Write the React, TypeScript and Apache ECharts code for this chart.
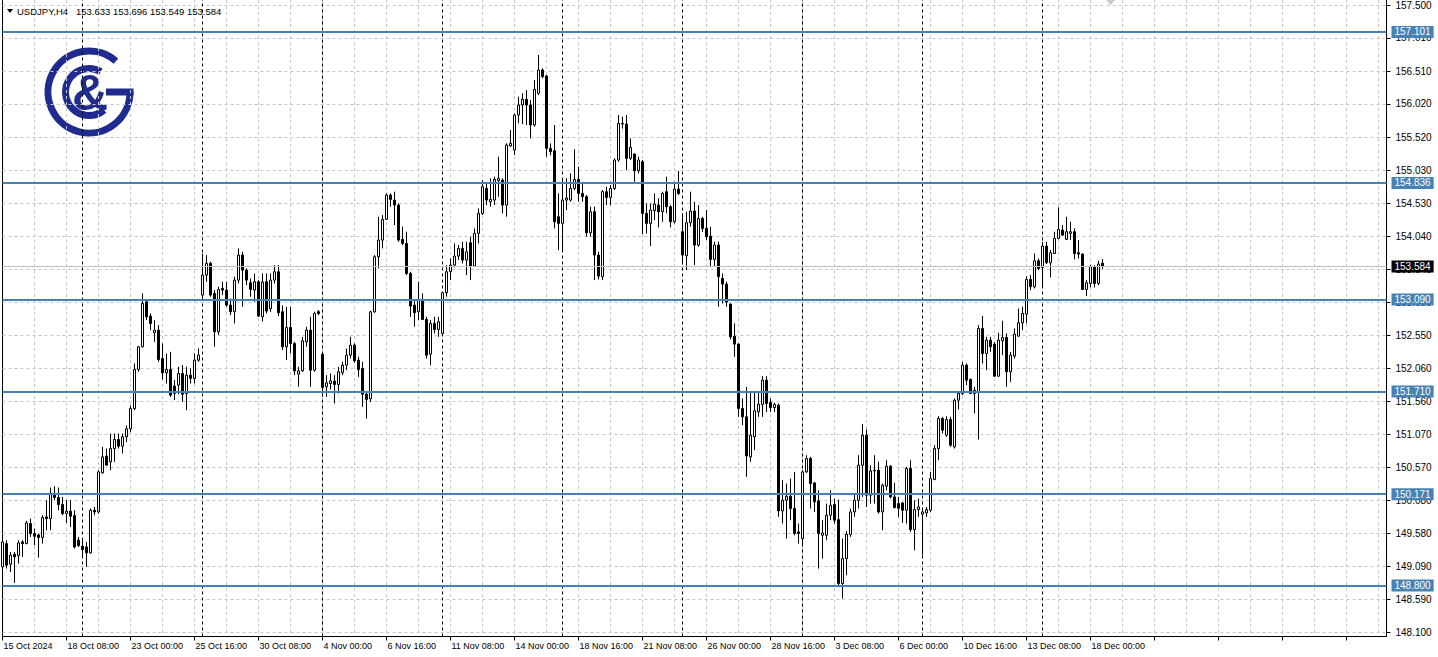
import { useEffect, useRef } from "react";
import * as echarts from "echarts";

const SYMBOL = "USDJPY,H4";
const FIRST_BAR_UTC = Date.UTC(2024, 9, 15, 16, 0);
const FUTURE_SLOTS = 71;

const openP = [
149.08,149.43,149.12,149.27,149.25,149.455,149.43,149.73,149.58,149.56,
149.52,149.83,149.805,150.155,150.12,150.015,149.88,149.915,149.85,149.48,
149.39,149.38,149.29,149.93,149.905,150.49,150.74,150.655,150.855,150.99,
150.89,151.03,151.15,151.455,152.04,152.38,153.055,152.84,152.59,152.63,
152.205,151.99,152.04,151.79,151.805,151.98,151.68,151.955,151.905,152.18,
153.155,153.455,153.63,153.18,152.605,153.255,153.23,153.005,152.905,153.38,
153.755,153.53,153.34,153.23,153.355,152.83,153.355,152.95,153.38,153.505,
152.905,152.38,152.67,152.43,151.97,152.02,152.455,152.63,152.03,152.905,
152.27,151.78,151.83,151.865,151.815,151.99,152.105,152.255,152.405,152.18,
152.055,151.67,151.6,152.905,153.73,153.98,154.29,154.655,154.58,154.505,
153.99,153.93,153.48,153.005,152.905,153.08,152.79,152.27,152.73,152.64,
152.58,153.19,153.505,153.605,153.74,153.855,153.68,153.94,153.59,154.08,
154.38,154.755,154.555,154.58,154.87,154.88,154.505,155.39,155.33,155.855,
156.005,156.09,156.005,155.705,156.18,156.53,156.44,155.355,155.32,154.33,
154.23,154.58,154.58,154.755,154.89,154.68,154.63,154.09,154.405,153.755,
153.43,154.705,154.62,154.755,155.18,155.73,155.72,155.205,155.27,155.02,
155.155,154.38,154.23,154.42,154.505,154.405,154.705,154.48,154.255,154.745,
154.105,153.745,154.24,154.415,153.905,154.305,154.155,154.04,153.69,153.905,
153.405,153.32,153.02,152.54,152.42,151.455,151.33,150.73,151.03,151.405,
151.515,151.88,151.545,151.47,151.505,149.92,150.08,150.14,149.955,149.605,
149.505,150.505,150.705,150.34,150.07,149.555,149.555,149.855,150.015,149.79,
148.83,149.205,149.565,149.905,150.08,150.605,151.055,150.155,150.52,150.53,
149.905,150.29,150.59,150.13,150.03,150.04,149.93,150.555,149.64,149.94,
149.87,149.89,149.93,150.39,150.855,151.305,151.055,151.29,150.88,151.58,
151.68,152.105,151.89,151.68,151.705,152.655,152.28,152.48,152.42,151.94,
152.47,152.52,152.005,152.24,152.54,152.74,152.87,153.39,153.28,153.67,
153.57,153.89,153.64,153.78,154.005,154.13,153.99,154.08,154.105,153.79,
153.77,153.24,153.33,153.58,153.33,153.633
];
const highP = [
149.47,149.48,149.305,149.305,149.48,149.48,149.77,149.805,149.655,149.58,
149.855,150.08,150.27,150.29,150.27,150.13,150.08,150.08,149.93,149.53,
149.48,149.455,149.955,149.98,150.53,150.88,150.855,151.08,151.08,151.08,
151.08,151.2,151.5,152.13,152.39,153.18,153.08,152.88,152.78,152.705,
152.43,152.28,152.305,151.88,152.08,152.105,152.08,152.055,152.28,152.355,
153.78,153.755,153.655,153.23,153.28,153.355,153.355,153.105,153.43,153.855,
153.805,153.555,153.405,153.48,153.38,153.48,153.48,153.48,153.605,153.605,
153.0,152.98,152.98,152.455,152.08,152.53,152.68,152.83,152.905,152.93,
152.3,151.955,151.98,151.955,152.08,152.155,152.355,152.53,152.43,152.23,
152.155,151.705,152.92,153.755,154.33,154.355,154.68,154.68,154.705,154.53,
154.18,154.105,153.505,153.08,153.355,153.18,152.83,152.78,152.83,152.83,
153.2,153.605,153.705,153.93,153.905,153.955,153.955,154.03,154.155,154.455,
154.88,154.83,154.905,154.93,155.23,154.905,155.43,155.63,155.88,156.13,
156.18,156.23,156.08,156.38,156.755,156.555,156.455,155.43,155.705,154.68,
154.905,154.905,154.98,155.34,155.08,154.83,154.655,154.48,154.48,153.805,
154.73,154.78,154.805,155.205,155.855,155.83,155.855,155.505,155.28,155.23,
155.18,154.53,154.53,154.68,154.605,154.705,154.93,154.505,154.855,155.015,
154.38,154.405,154.705,154.555,154.505,154.33,154.43,154.18,153.955,153.955,
153.48,153.355,153.03,152.73,152.43,151.605,151.78,151.705,151.705,151.705,
151.94,151.94,151.605,151.54,151.53,150.38,150.33,150.405,150.505,149.73,
150.53,150.755,150.73,150.355,150.23,149.78,150.03,150.23,150.105,150.09,
149.505,149.62,149.955,150.17,150.755,151.22,151.14,150.605,150.755,150.655,
150.33,150.68,150.605,150.34,150.13,150.055,150.58,150.68,150.08,150.105,
149.955,149.98,150.505,150.905,151.34,151.33,151.34,151.33,151.605,151.705,
152.155,152.13,151.905,151.78,152.705,152.84,152.53,152.53,152.455,152.59,
152.77,152.58,152.305,152.655,152.955,152.98,153.44,153.455,153.78,153.705,
153.955,153.955,153.83,154.105,154.47,154.205,154.33,154.255,154.155,153.98,
153.78,153.38,153.605,153.605,153.67,153.696
];
const lowP = [
148.93,149.055,149.005,148.84,149.13,149.23,149.42,149.53,149.405,149.22,
149.43,149.63,149.63,150.08,149.93,149.855,149.74,149.68,149.355,149.38,
149.23,149.08,149.28,149.855,149.88,150.48,150.605,150.53,150.655,150.855,
150.78,150.95,151.1,151.43,152.005,152.37,152.78,152.63,152.455,152.155,
151.89,151.83,151.63,151.58,151.67,151.555,151.43,151.83,151.83,152.155,
153.105,153.355,153.13,152.38,152.555,153.155,152.98,152.855,152.73,153.33,
152.98,153.305,153.13,153.055,152.83,152.76,152.88,152.9,153.33,152.84,
152.33,152.18,152.28,151.955,151.78,152.005,152.38,151.78,152.005,152.855,
151.655,151.63,151.74,151.53,151.68,151.955,152.03,152.205,152.14,151.93,
151.48,151.305,151.55,152.89,153.555,153.855,154.28,154.48,154.205,153.955,
153.905,153.455,152.83,152.68,152.78,152.78,152.205,152.105,152.58,152.53,
152.55,153.13,153.38,153.57,153.68,153.63,153.455,153.38,153.58,153.93,
154.355,154.505,154.48,154.505,154.63,154.38,154.33,155.38,155.255,155.73,
155.72,155.705,155.505,155.68,156.155,156.405,155.23,155.25,154.155,153.83,
153.83,154.43,154.555,154.73,154.555,154.555,154.03,154.03,153.38,153.39,
153.38,154.505,154.505,154.73,155.155,155.65,155.03,155.18,154.855,154.98,
154.07,154.08,153.89,154.28,154.17,154.255,154.38,154.17,154.23,154.655,
153.63,153.53,154.18,153.605,153.88,154.105,153.98,153.58,153.58,152.98,
153.03,152.98,152.49,152.23,151.33,151.205,150.43,150.655,150.83,151.33,
151.33,151.405,151.405,151.405,149.83,149.73,149.505,149.78,149.555,149.43,
149.405,150.49,149.955,149.905,149.055,149.205,149.48,149.78,149.73,148.78,
148.605,148.955,149.53,149.83,149.955,150.13,149.98,150.03,150.03,149.88,
149.63,150.23,150.105,149.955,149.83,149.74,149.73,149.605,149.33,149.83,
149.255,149.83,149.905,150.38,150.68,151.08,151.03,150.88,150.855,151.44,
151.655,151.805,151.67,151.38,150.99,152.13,152.03,152.305,151.93,151.93,
152.255,151.78,151.855,152.205,152.53,152.63,152.73,153.23,153.255,153.53,
153.28,153.62,153.42,153.77,153.99,154.04,153.98,153.98,153.69,153.705,
153.23,153.14,153.27,153.27,153.305,153.549
];
const closeP = [
149.455,149.105,149.255,149.23,149.44,149.43,149.74,149.58,149.54,149.52,
149.82,149.805,150.165,150.12,150.015,149.88,149.915,149.84,149.38,149.40,
149.34,149.29,149.93,149.905,150.505,150.73,150.605,150.855,150.99,150.89,
151.03,151.15,151.455,152.04,152.38,153.03,152.83,152.73,152.63,152.19,
151.99,152.04,151.655,151.68,151.98,151.67,151.955,151.905,152.18,152.255,
153.455,153.63,153.155,152.605,153.24,153.23,153.005,152.905,153.38,153.755,
153.53,153.38,153.24,153.355,152.84,153.35,152.915,153.38,153.505,152.89,
152.38,152.67,152.43,152.02,152.02,152.47,152.63,152.03,152.88,152.88,
151.77,151.84,151.87,151.815,152.005,152.105,152.255,152.405,152.17,152.04,
151.67,151.59,152.905,153.73,153.98,154.29,154.655,154.59,154.505,153.98,
153.93,153.48,152.99,152.89,153.08,152.79,152.255,152.73,152.64,152.755,
153.19,153.505,153.605,153.74,153.855,153.68,153.805,153.59,154.08,154.38,
154.78,154.58,154.59,154.89,154.905,154.505,155.405,155.43,155.855,156.005,
156.09,156.005,155.705,156.24,156.53,156.43,155.355,155.305,154.255,154.23,
154.58,154.61,154.755,154.89,154.68,154.63,154.09,154.405,153.755,153.44,
154.705,154.62,154.755,155.18,155.73,155.72,155.205,155.37,155.02,155.18,
154.38,154.23,154.43,154.52,154.405,154.68,154.48,154.255,154.745,154.68,
153.755,154.24,154.415,153.905,154.305,154.155,154.03,153.69,153.905,153.43,
153.32,153.05,152.53,152.42,151.455,151.33,150.745,151.055,151.42,151.52,
151.88,151.53,151.47,151.515,149.92,150.08,150.14,149.955,149.58,149.58,
150.505,150.705,150.33,150.055,149.58,149.59,149.855,150.005,149.78,148.83,
149.205,149.57,149.905,150.08,150.605,151.055,150.155,150.52,150.53,149.905,
150.305,150.59,150.13,149.97,149.96,149.93,150.555,149.64,149.94,149.98,
149.905,149.94,150.405,150.855,151.305,151.13,151.29,150.905,151.58,151.68,
152.105,151.88,151.68,151.73,152.655,152.28,152.48,152.38,151.94,152.48,
152.52,152.005,152.255,152.57,152.74,152.88,153.39,153.28,153.67,153.555,
153.89,153.64,153.79,154.005,154.14,154.055,154.105,154.105,153.78,153.77,
153.24,153.34,153.58,153.33,153.62,153.584
];

const levelLines = [157.101, 154.836, 153.09, 151.71, 150.171, 148.8];
const bidPrice = 153.584;
const priceTicks = [
  157.5, 157.01, 156.51, 156.02, 155.52, 155.03, 154.53, 154.04, 153.54, 153.05,
  152.55, 152.06, 151.56, 151.07, 150.57, 150.08, 149.58, 149.09, 148.59, 148.1,
];
const Y_MIN = 148.037;
const Y_MAX = 157.579;

const MONTHS = ["Jan", "Feb", "Mar", "Apr", "May", "Jun", "Jul", "Aug", "Sep", "Oct", "Nov", "Dec"];
const pad2 = (n: number) => (n < 10 ? "0" + n : "" + n);

function buildTimes(count: number): number[] {
  const out: number[] = [];
  let t = FIRST_BAR_UTC;
  while (out.length < count) {
    const wd = new Date(t).getUTCDay();
    if (wd !== 0 && wd !== 6) out.push(t);
    t += 4 * 3600 * 1000;
  }
  return out;
}

const FONT = '"Liberation Sans", Arial, sans-serif';
const NAVY = "#1f2b8f";
const LEVEL_BLUE = "#4682b4";

function priceLabel(v: number, bg: string) {
  return {
    show: true,
    position: "end",
    distance: 5,
    formatter: () => v.toFixed(3),
    color: "#fff",
    backgroundColor: bg,
    padding: [1, 3, 1, 3],
    fontSize: 10,
    fontFamily: FONT,
  };
}

export default function App() {
  const ref = useRef<HTMLDivElement>(null);

  useEffect(() => {
    if (!ref.current) return;
    const chart = echarts.init(ref.current, undefined, { renderer: "svg" });

    const nBars = openP.length;
    const times = buildTimes(nBars + FUTURE_SLOTS);
    const categories = times.map((t) => {
      const d = new Date(t);
      return `${d.getUTCDate()} ${MONTHS[d.getUTCMonth()]} ${pad2(d.getUTCHours())}:${pad2(d.getUTCMinutes())}`;
    });
    const weekStarts: number[] = [];
    times.forEach((t, i) => {
      const d = new Date(t);
      if (i > 0 && i < nBars && d.getUTCDay() === 1 && d.getUTCHours() === 0) weekStarts.push(i);
    });
    const firstDate = new Date(times[0]);
    const firstLabel = `${firstDate.getUTCDate()} ${MONTHS[firstDate.getUTCMonth()]} ${firstDate.getUTCFullYear()}`;

    const candles = openP.map((o, i) => [o, closeP[i], lowP[i], highP[i]]);
    const last = nBars - 1;
    const header = [openP[last], highP[last], lowP[last], closeP[last]].map((v) => v.toFixed(3)).join(" ");

    const gridLineStyle = { color: "#c6c6c6", type: [3, 3] as number[], width: 1 };

    const option: any = {
      animation: false,
      backgroundColor: "#ffffff",
      grid: { left: 2.5, right: 51.5, top: 0, bottom: 20.5, containLabel: false, outerBoundsMode: "none" },
      xAxis: {
        type: "category",
        data: categories,
        boundaryGap: false,
        axisLine: { show: true, lineStyle: { color: "#000", width: 1 } },
        axisTick: { show: true, interval: 15, length: 4, lineStyle: { color: "#000" } },
        axisLabel: {
          interval: 15,
          color: "#000",
          fontSize: 9,
          fontFamily: FONT,
          align: "left",
          margin: 5,
          padding: [0, 0, 0, 1],
          formatter: (v: string, idx: number) => (idx === 0 ? firstLabel : idx < nBars ? v : ""),
        },
        splitLine: { show: true, interval: 7, lineStyle: gridLineStyle },
      },
      yAxis: [
        {
          type: "value",
          position: "right",
          min: Y_MIN,
          max: Y_MAX,
          axisLine: { show: true, lineStyle: { color: "#000", width: 1 } },
          axisTick: { show: true, length: 4, customValues: priceTicks, lineStyle: { color: "#000" } },
          axisLabel: {
            customValues: priceTicks,
            color: "#000",
            fontSize: 10,
            fontFamily: FONT,
            margin: 9,
            formatter: (v: number) => v.toFixed(3),
          },
          splitLine: { show: false },
        },
        {
          type: "value",
          position: "left",
          min: Y_MIN,
          max: Y_MAX,
          axisLine: { show: true, lineStyle: { color: "#000", width: 1 } },
          axisTick: { show: false },
          axisLabel: { show: false },
          splitLine: { show: false },
        },
      ],
      series: [
        {
          type: "line",
          data: [],
          silent: true,
          markLine: {
            silent: true,
            symbol: "none",
            z: 1,
            label: { show: false },
            emphasis: { disabled: true },
            data: [
              ...priceTicks.map((v) => ({ yAxis: v, lineStyle: gridLineStyle })),
              ...weekStarts.map((i) => ({
                xAxis: categories[i],
                lineStyle: { color: "#000", type: [3, 3], width: 1 },
              })),
            ],
          },
        },
        {
          type: "candlestick",
          data: candles,
          barWidth: 2,
          z: 3,
          silent: true,
          itemStyle: {
            color: "#ffffff",
            color0: "#000000",
            borderColor: "#000000",
            borderColor0: "#000000",
            borderWidth: 1,
          },
          markLine: {
            silent: true,
            symbol: "none",
            precision: 3,
            z: 6,
            emphasis: { disabled: true },
            data: [
              {
                yAxis: bidPrice,
                lineStyle: { color: "#c0c0c0", type: "solid", width: 1 },
                label: priceLabel(bidPrice, "#000"),
              },
              ...levelLines.map((v) => ({
                yAxis: v,
                lineStyle: { color: LEVEL_BLUE, type: "solid", width: 2 },
                label: priceLabel(v, LEVEL_BLUE),
              })),
            ],
          },
        },
      ],
      graphic: [
        {
          type: "polygon",
          z: 100,
          shape: { points: [[7, 9], [13, 9], [10, 13]] },
          style: { fill: "#000" },
        },
        {
          type: "text",
          z: 100,
          x: 17,
          y: 11,
          style: {
            text: SYMBOL + "   " + header,
            font: `9.5px ${FONT}`,
            fill: "#000",
            verticalAlign: "middle",
          },
        },
        {
          type: "polygon",
          z: 100,
          shape: { points: [[1106, 0], [1115, 0], [1110.5, 5]] },
          style: { fill: "#c8c8c8" },
        },
        {
          type: "group",
          z: 100,
          children: [
            {
              type: "arc",
              shape: { cx: 89, cy: 92, r: 41, startAngle: 0, endAngle: (311 * Math.PI) / 180, clockwise: true },
              style: { stroke: NAVY, lineWidth: 7, fill: null },
            },
            {
              type: "line",
              shape: { x1: 106, y1: 92, x2: 133.5, y2: 92 },
              style: { stroke: NAVY, lineWidth: 7 },
            },
            {
              type: "arc",
              shape: { cx: 89, cy: 92, r: 23.5, startAngle: (50 * Math.PI) / 180, endAngle: (300 * Math.PI) / 180, clockwise: true },
              style: { stroke: NAVY, lineWidth: 7, fill: null },
            },
            {
              type: "text",
              x: 90,
              y: 93,
              style: {
                text: "&",
                font: `bold 50px ${FONT}`,
                fill: NAVY,
                align: "center",
                verticalAlign: "middle",
              },
            },
          ],
        },
      ],
    };

    chart.setOption(option);
    return () => chart.dispose();
  }, []);

  return (
    <div
      ref={ref}
      style={{ position: "fixed", left: 0, top: 0, width: 1438, height: 657, background: "#fff" }}
    />
  );
}
